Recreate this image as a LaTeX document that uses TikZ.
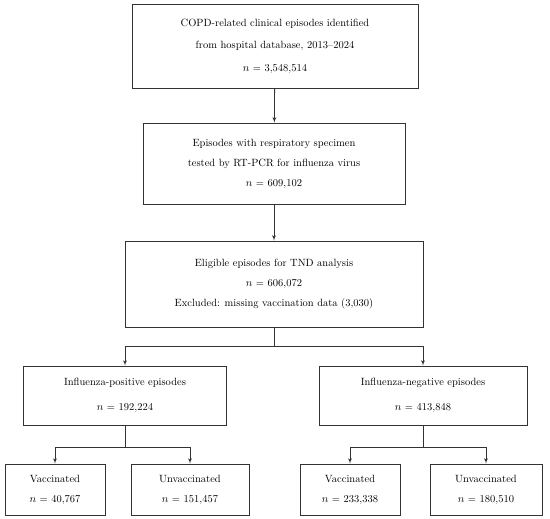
\documentclass[tikz,border=0pt]{standalone}
\usepackage{tikz}
\usepackage{xcolor}
\usetikzlibrary{shapes, arrows, positioning, calc}
\tikzstyle{block} = [rectangle, draw=black!80, line width=0.8pt, align=center, inner sep=0pt, font=\fontsize{10.5}{20}\selectfont]
\tikzstyle{line} = [draw, black!80, line width=0.8pt, -latex']
\tikzstyle{link} = [draw, black!80, line width=0.8pt]

\begin{document}
\begin{tikzpicture}[x=1pt, y=1pt, node distance=100pt]
    \useasboundingbox (0,0) rectangle (550,-519);
    % Nodes
    \node [block, minimum width=286pt, minimum height=84pt, font=\fontsize{10.5}{22.5}\selectfont] (all) at (275,-46) {COPD-related clinical episodes identified\\ from hospital database, 2013--2024\\ $n$ = 3,548,514};
    \node [block, minimum width=262pt, minimum height=81pt, below of=all, node distance=117.5pt, xshift=-1pt] (tested) {Episodes with respiratory specimen\\ tested by RT-PCR for influenza virus\\ $n$ = 609,102};
    \node [block, minimum width=298pt, minimum height=86pt, below of=tested, node distance=120.5pt] (eligible) {Eligible episodes for TND analysis\\ $n$ = 606,072\\ Excluded: missing vaccination data (3,030)};
    \node [block, minimum width=203pt, minimum height=59pt, below of=eligible, node distance=111.5pt, xshift=-149pt, font=\fontsize{10.5}{25}\selectfont] (pos) {Influenza-positive episodes\\ $n$ = 192,224};
    \node [block, minimum width=208pt, minimum height=59pt, below of=eligible, node distance=111.5pt, xshift=149pt, font=\fontsize{10.5}{25}\selectfont] (neg) {Influenza-negative episodes\\ $n$ = 413,848};
    \node [block, minimum width=100pt, minimum height=51pt, below of=pos, node distance=94pt, xshift=-70pt] (posvax) {Vaccinated\\ $n$ = 40,767};
    \node [block, minimum width=118pt, minimum height=51pt, below of=pos, node distance=94pt, xshift=65pt] (posunvax) {Unvaccinated\\ $n$ = 151,457};
    \node [block, minimum width=100pt, minimum height=51pt, below of=neg, node distance=94pt, xshift=-73pt] (negvax) {Vaccinated\\ $n$ = 233,338};
    \node [block, minimum width=112pt, minimum height=51pt, below of=neg, node distance=94pt, xshift=63pt] (negunvax) {Unvaccinated\\ $n$ = 180,510};

    % Lines
    \path [line] (all) -- (tested);
    \path [line] (tested) -- (eligible);
    \path [link] (eligible.south) -- ++(0,-19) coordinate (split);
    \path [line] (split) -| (pos.north);
    \path [line] (split) -| (neg.north);
    \path [link] (pos.south) -- ++(0,-22) coordinate (possplit);
    \path [line] (possplit) -| (posvax.north);
    \path [line] (possplit) -| (posunvax.north);
    \path [link] (neg.south) -- ++(0,-22) coordinate (negsplit);
    \path [line] (negsplit) -| (negvax.north);
    \path [line] (negsplit) -| (negunvax.north);

\end{tikzpicture}
\end{document}
